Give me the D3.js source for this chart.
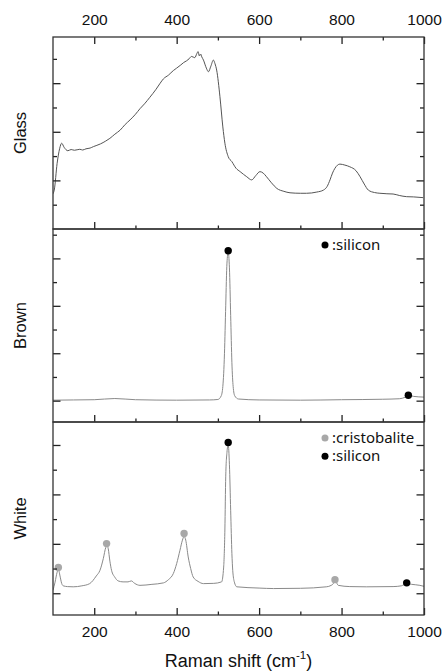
<!DOCTYPE html>
<html>
<head>
<meta charset="utf-8">
<script src="https://cdn.jsdelivr.net/npm/d3@7"></script>
<style>
  html, body { margin: 0; padding: 0; background: #fff; }
  svg { display: block; }
</style>
</head>
<body>
<svg id="chart" width="442" height="671"></svg>
<script>
// ---------------- DATA ----------------
const panelNames = ["Glass", "Brown", "White"];
const xMajorTicks = [200, 400, 600, 800, 1000];
const xMinorTicks = [300, 500, 700, 900];

// Glass spectrum: Raman shift (cm-1), intensity (a.u.)
const glassShift = [100,103,110,116,121,127,136,144,152,165,172,180,190,198,215,228,238,250,263,275,287,300,311,322,335,350,360,368,380,392,400,410,417,424,430,436,444,449,452,455,458,461,465,472,477,483,489,493,497,505,512,517,525,534,544,554,570,582,592,602,610,618,630,643,660,675,700,715,740,756,765,772,778,784,796,808,820,835,845,855,865,880,893,910,925,940,958,975,998];
const glassIntensity = [1.45,1.6,2.7,3.3,3.53,3.36,3.22,3.27,3.24,3.28,3.25,3.3,3.33,3.39,3.5,3.62,3.73,3.9,4.07,4.3,4.49,4.72,4.95,5.15,5.42,5.75,6.0,6.18,6.33,6.52,6.62,6.75,6.85,6.92,7.0,7.1,7.05,7.22,7.3,7.12,7.2,7.08,6.95,6.62,6.47,6.7,6.95,6.8,6.54,5.44,4.2,3.53,2.98,2.77,2.5,2.36,2.15,2.02,2.2,2.36,2.3,2.15,1.9,1.67,1.55,1.49,1.47,1.47,1.52,1.6,1.75,2.02,2.3,2.5,2.67,2.63,2.56,2.4,2.15,1.85,1.6,1.5,1.47,1.45,1.44,1.38,1.33,1.32,1.29];

// Brown spectrum
const brownShift = [100,150,200,250,300,400,480,500,508,512,516,519,522,525,528,531,534,537,541,550,600,700,800,900,940,955,962,975,1000];
const brownIntensity = [0.02,0.03,0.04,0.09,0.04,0.02,0.03,0.05,0.2,0.6,2.0,4.0,5.8,6.25,5.6,3.6,1.6,0.6,0.2,0.07,0.03,0.02,0.04,0.06,0.08,0.15,0.22,0.18,0.15];

// White spectrum
const whiteShift = [100,105,110,113,117,121,125,135,149,170,189,205,214,222,228,231,234,238,242,250,258,270,282,290,298,311,340,368,380,392,400,408,414,418,422,428,434,440,452,465,490,509,514,517,519,522,525,528,531,534,536,540,546,600,635,700,763,775,780,784,788,792,820,860,925,945,958,970,990,1000];
const whiteIntensity = [0.12,0.45,0.85,0.98,0.7,0.4,0.3,0.27,0.26,0.3,0.39,0.7,0.93,1.4,1.85,1.93,1.8,1.3,0.93,0.65,0.5,0.46,0.46,0.5,0.4,0.32,0.36,0.42,0.55,0.8,1.2,1.74,2.15,2.3,2.15,1.47,1.0,0.66,0.48,0.39,0.4,0.46,1.06,2.6,4.71,5.7,6.0,5.2,3.36,1.6,0.93,0.45,0.26,0.21,0.19,0.2,0.26,0.32,0.39,0.53,0.42,0.32,0.27,0.26,0.27,0.3,0.39,0.36,0.32,0.28];

// Peak markers: [shift, intensity]
const brownSiliconPeaks = [[525, 6.32], [962, 0.23]];
const whiteCristobalitePeaks = [[113, 1.04], [230, 2.01], [418, 2.42], [784, 0.55]];
const whiteSiliconPeaks = [[525, 6.10], [958, 0.42]];

// Legend entries
const legendBrown = [{label: ":silicon", color: "#000"}];
const legendWhite = [{label: ":cristobalite", color: "#a8a8a8"}, {label: ":silicon", color: "#000"}];

// y-axis domains and tick values per panel
const yDomains = [[0, 7.9], [-0.9, 7.24], [-0.88, 6.93]];
const yTickValues = [[1,2,3,4,5,6,7], [0,1,2,3,4,5,6,7], [0,1,2,3,4,5,6]];

// ---------------- LAYOUT ----------------
const svg = d3.select("#chart");
const left = 53, right = 424;
const panelTops = [37, 229, 422];
const panelBottoms = [229, 422, 615];
const fontMain = '"Liberation Sans", Arial, sans-serif';
const fontLegend = '"Noto Sans", "Open Sans", sans-serif';

const x = d3.scaleLinear().domain([100, 1000]).range([left, right]);

const seriesList = [
  {shift: glassShift, intensity: glassIntensity, color: "#555"},
  {shift: brownShift, intensity: brownIntensity, color: "#8a8a8a"},
  {shift: whiteShift, intensity: whiteIntensity, color: "#8a8a8a"}
];
const markerSets = [
  [],
  [{pts: brownSiliconPeaks, color: "#000"}],
  [{pts: whiteCristobalitePeaks, color: "#a8a8a8"}, {pts: whiteSiliconPeaks, color: "#000"}]
];
const legends = [[], legendBrown, legendWhite];

panelNames.forEach((name, i) => {
  const top = panelTops[i], bottom = panelBottoms[i];
  const y = d3.scaleLinear().domain(yDomains[i]).range([bottom, top]);
  const g = svg.append("g");

  const clipId = "clip" + i;
  svg.append("clipPath").attr("id", clipId)
    .append("rect").attr("x", left).attr("y", top).attr("width", right - left).attr("height", bottom - top);

  const s = seriesList[i];
  const data = s.shift.map((d, k) => [d, s.intensity[k]]);
  const line = d3.line().x(d => x(d[0])).y(d => y(d[1])).curve(d3.curveMonotoneX);
  g.append("path").datum(data)
    .attr("clip-path", `url(#${clipId})`)
    .attr("fill", "none").attr("stroke", s.color).attr("stroke-width", 1)
    .attr("d", line);

  markerSets[i].forEach(ms => {
    g.selectAll(null).data(ms.pts).enter().append("circle")
      .attr("cx", d => x(d[0])).attr("cy", d => y(d[1])).attr("r", 3.7)
      .attr("fill", ms.color);
  });

  const majorY = yTickValues[i].filter(v => v % 2 === 0);
  const minorY = yTickValues[i].filter(v => v % 2 !== 0);
  const yAxes = [
    {gen: d3.axisLeft(y).tickValues(majorY).tickSize(-7.5), tx: left},
    {gen: d3.axisLeft(y).tickValues(minorY).tickSize(-4), tx: left},
    {gen: d3.axisRight(y).tickValues(majorY).tickSize(-7.5), tx: right},
    {gen: d3.axisRight(y).tickValues(minorY).tickSize(-4), tx: right}
  ];
  yAxes.forEach(a => {
    const ag = g.append("g").attr("transform", `translate(${a.tx},0)`).call(a.gen.tickFormat(""));
    ag.select(".domain").remove();
    ag.selectAll(".tick line").attr("stroke", "#222").attr("stroke-width", 1.3);
  });

  const bMaj = d3.axisBottom(x).tickValues(xMajorTicks).tickSize(-7).tickPadding(10.5)
    .tickFormat(i === 2 ? d3.format("d") : "");
  const bMin = d3.axisBottom(x).tickValues(xMinorTicks).tickSize(-3.5).tickFormat("");
  [bMaj, bMin].forEach(gen => {
    const ag = g.append("g").attr("transform", `translate(0,${bottom})`).call(gen);
    ag.select(".domain").remove();
    ag.selectAll(".tick line").attr("stroke", "#222").attr("stroke-width", 1.3);
    ag.selectAll(".tick text").attr("font-size", 15.5).attr("fill", "#111").attr("font-family", fontMain);
  });

  if (i === 0) {
    const tMaj = d3.axisTop(x).tickValues(xMajorTicks).tickSize(-7).tickPadding(12.5).tickFormat(d3.format("d"));
    const tMin = d3.axisTop(x).tickValues(xMinorTicks).tickSize(-3.5).tickFormat("");
    [tMaj, tMin].forEach(gen => {
      const ag = g.append("g").attr("transform", `translate(0,${top})`).call(gen);
      ag.select(".domain").remove();
      ag.selectAll(".tick line").attr("stroke", "#222").attr("stroke-width", 1.3);
      ag.selectAll(".tick text").attr("font-size", 15.5).attr("fill", "#111").attr("font-family", fontMain);
    });
  }

  g.append("rect").attr("x", left).attr("y", top).attr("width", right - left).attr("height", bottom - top)
    .attr("fill", "none").attr("stroke", "#333").attr("stroke-width", 1.3);

  svg.append("text")
    .attr("transform", `translate(26,${(top + bottom) / 2}) rotate(-90)`)
    .attr("text-anchor", "middle")
    .attr("font-family", fontMain).attr("font-size", 16.5).attr("fill", "#111")
    .text(name);

  legends[i].forEach((L, k) => {
    const ly = top + 16 + k * 18.3;
    svg.append("circle").attr("cx", 325).attr("cy", ly).attr("r", 3.5).attr("fill", L.color);
    svg.append("text").attr("x", 332).attr("y", ly + 4.5)
      .attr("font-family", fontLegend).attr("font-size", 15).attr("fill", "#111")
      .text(L.label);
  });
});

const title = svg.append("text")
  .attr("x", (left + right) / 2).attr("y", 666.5)
  .attr("text-anchor", "middle")
  .attr("font-family", fontMain).attr("font-size", 18).attr("fill", "#111");
title.append("tspan").text("Raman shift (cm");
title.append("tspan").attr("font-size", 11.5).attr("dy", -7.5).text("-1");
title.append("tspan").attr("dy", 7.5).text(")");
</script>
</body>
</html>
